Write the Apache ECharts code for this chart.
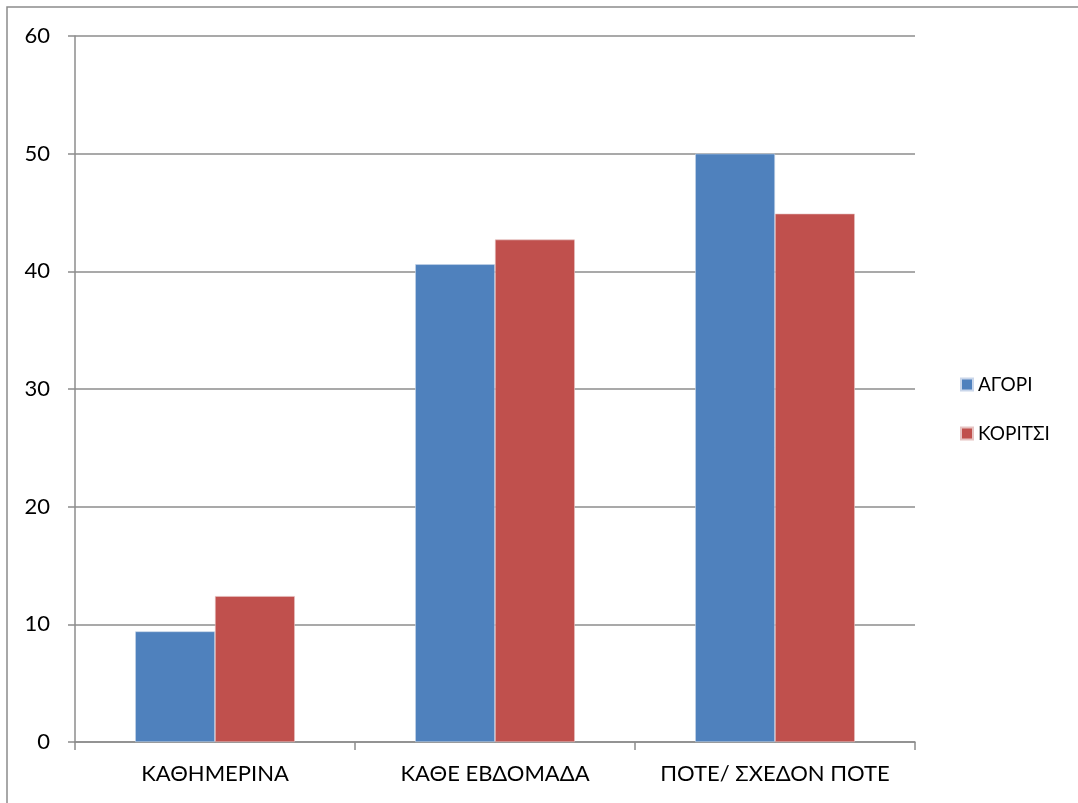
<!DOCTYPE html>
<html>
<head>
<meta charset="utf-8">
<script src="https://cdn.jsdelivr.net/npm/echarts@6/dist/echarts.min.js"></script>
<style>
  html, body { margin: 0; padding: 0; background: #fff; }
  #chart { width: 1078px; height: 803px; }
</style>
</head>
<body>
<div id="chart"></div>
<script>
// categories and values
var categories = ['ΚΑΘΗΜΕΡΙΝΑ', 'ΚΆΘΕ ΕΒΔΟΜΑΔΑ', 'ΠΟΤΕ/ ΣΧΕΔΟΝ ΠΟΤΕ'];
var agori = [9.4, 40.6, 50.0];
var koritsi = [12.4, 42.7, 44.9];
var seriesNames = ['ΑΓΟΡΙ', 'ΚΟΡΙΤΣΙ'];

var font = 'Lato, "Open Sans", sans-serif';
var gridColor = '#8c8c8c';

var chart = echarts.init(document.getElementById('chart'));
chart.setOption({
  animation: false,
  textStyle: { fontFamily: font },
  graphic: [{
    type: 'rect',
    shape: { x: 7, y: 7, width: 1200, height: 900 },
    style: { fill: 'none', stroke: '#8c8c8c', lineWidth: 1.5 },
    silent: true
  }],
  legend: {
    orient: 'vertical',
    left: 955,
    top: 370,
    itemWidth: 12,
    itemHeight: 12,
    itemGap: 30,
    icon: 'rect',
    textStyle: { fontSize: 19, color: '#000', fontFamily: font },
    data: seriesNames
  },
  grid: { left: 75, right: 163, top: 36, bottom: 61 },
  xAxis: {
    type: 'category',
    data: categories,
    axisLine: { lineStyle: { color: gridColor, width: 1.5 } },
    axisTick: { show: true, interval: 0, length: 8, lineStyle: { color: gridColor, width: 1.5 } },
    axisLabel: { interval: 0, hideOverlap: false, color: '#000', fontSize: 22, margin: 21, fontFamily: font }
  },
  yAxis: {
    type: 'value',
    min: 0,
    max: 60,
    interval: 10,
    axisLine: { show: true, lineStyle: { color: gridColor, width: 1.5 } },
    axisTick: { show: true, length: 7, lineStyle: { color: gridColor, width: 1.5 } },
    axisLabel: { color: '#000', fontSize: 22, margin: 25, fontFamily: font },
    splitLine: { lineStyle: { color: gridColor, width: 1.5 } }
  },
  series: [
    {
      name: seriesNames[0],
      type: 'bar',
      data: agori,
      barGap: '0%',
      barCategoryGap: '43%',
      itemStyle: { color: '#4F81BD', borderColor: '#c9d6ea', borderWidth: 0.6 }
    },
    {
      name: seriesNames[1],
      type: 'bar',
      data: koritsi,
      itemStyle: { color: '#C0504D', borderColor: '#e6c3c2', borderWidth: 0.6 }
    }
  ]
});
</script>
</body>
</html>
